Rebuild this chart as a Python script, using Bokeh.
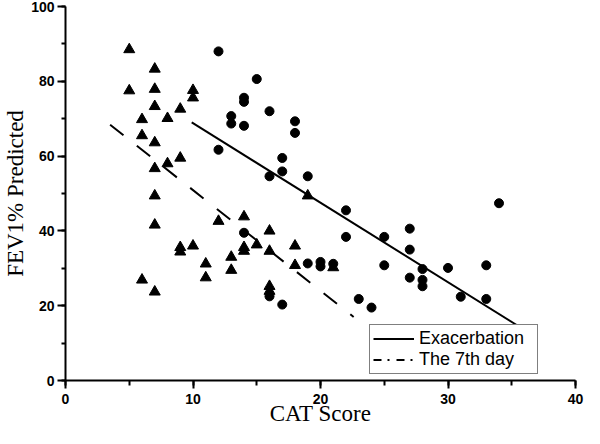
from bokeh.plotting import figure
from bokeh.models import Range1d, SingleIntervalTicker, Legend, LegendItem
from bokeh.embed import file_html
from bokeh.resources import INLINE

# Exacerbation (circles)
exac_x = [12, 12, 13, 13, 14, 14, 14, 14, 15, 16, 16, 16, 17, 17, 17, 18, 18, 19, 19, 20,
          20, 21, 22, 22, 23, 24, 25, 25, 27, 27, 27, 28, 28, 28, 30, 31, 33, 33, 34]
exac_y = [88.0, 61.7, 70.7, 68.7, 75.6, 74.5, 68.1, 39.5, 80.6, 72.0, 54.6, 22.5, 59.5, 55.9, 20.3, 69.3, 66.2, 54.6, 31.3, 31.7,
          30.5, 31.2, 45.5, 38.4, 21.8, 19.5, 38.4, 30.8, 40.6, 35.0, 27.5, 29.8, 26.9, 25.2, 30.1, 22.4, 30.8, 21.8, 47.4]

# The 7th day (triangles)
day7_x = [5, 5, 6, 6, 6, 7, 7, 7, 7, 7, 7, 7, 7, 8, 8, 9, 9, 9, 9, 10,
          10, 10, 11, 11, 12, 13, 13, 14, 14, 14, 15, 16, 16, 16, 16, 18, 18, 19, 21]
day7_y = [88.5, 77.5, 69.8, 65.5, 26.9, 83.3, 77.9, 73.3, 63.6, 56.7, 49.4, 41.6, 23.7, 70.1, 58.0, 72.6, 59.5, 35.6, 34.4, 77.6,
          75.6, 36.0, 31.2, 27.5, 42.6, 33.0, 29.5, 43.8, 35.6, 34.6, 36.3, 40.0, 34.6, 25.2, 23.9, 36.0, 30.8, 49.4, 30.2]

# Regression lines (end points)
exac_fit_x = [9.9, 36.2]
exac_fit_y = [69.0, 13.1]
day7_fit_x = [3.5, 22.6]
day7_fit_y = [68.4, 17.0]

x_label = "CAT Score"
y_label = "FEV1% Predicted"
series_names = ["Exacerbation", "The 7th day"]

p = figure(width=584, height=428,
           x_range=Range1d(0, 40), y_range=Range1d(0, 100),
           output_backend="svg", toolbar_location=None,
           min_border_left=61, min_border_right=9, min_border_top=6, min_border_bottom=48)

p.outline_line_color = None
p.grid.visible = False
p.background_fill_color = "white"
p.border_fill_color = "white"

p.xaxis.ticker = SingleIntervalTicker(interval=10, num_minor_ticks=2)
p.yaxis.ticker = SingleIntervalTicker(interval=20, num_minor_ticks=2)

for ax in (p.xaxis, p.yaxis):
    ax.axis_line_width = 2
    ax.axis_line_color = "black"
    ax.major_tick_line_width = 2
    ax.minor_tick_line_width = 2
    ax.major_tick_line_color = "black"
    ax.minor_tick_line_color = "black"
    ax.major_tick_in = 0
    ax.major_tick_out = 8
    ax.minor_tick_in = 0
    ax.minor_tick_out = 5
    ax.major_label_text_font = "Liberation Sans"
    ax.major_label_text_font_style = "bold"
    ax.major_label_text_font_size = "14px"
    ax.major_label_text_color = "black"
    ax.axis_label_text_font = "Liberation Serif"
    ax.axis_label_text_font_style = "normal"
    ax.axis_label_text_font_size = "23px"
    ax.axis_label_text_color = "black"

p.xaxis.axis_label = x_label
p.yaxis.axis_label = y_label
p.xaxis.major_label_standoff = 5
p.yaxis.major_label_standoff = 3
p.xaxis.axis_label_standoff = -6
p.yaxis.axis_label_standoff = 0
p.yaxis.minor_tick_out = 4

r_exac = p.line(exac_fit_x, exac_fit_y, line_color="black", line_width=2)
p.line(day7_fit_x, day7_fit_y, line_color="black", line_width=2, line_dash="17 17")

# legend-only sample of the dash-dot style (NaN data, so nothing is drawn in the plot)
nan = float("nan")
r_day7_leg = p.line([nan, nan], [nan, nan],
                    line_color="black", line_width=2, line_dash="8 6 2 7")

p.scatter(day7_x, day7_y, marker="triangle", size=11, fill_color="black", line_color="black")
p.scatter(exac_x, exac_y, marker="circle", size=9, fill_color="black", line_color="black")

legend = Legend(items=[LegendItem(label=series_names[0], renderers=[r_exac]),
                       LegendItem(label=series_names[1], renderers=[r_day7_leg])],
                location=(304, 6), margin=0, padding=3, spacing=0,
                glyph_width=41, glyph_height=19, label_height=19, label_standoff=5,
                label_width=115,
                label_text_font="Liberation Sans", label_text_font_size="18px",
                label_text_color="black",
                border_line_color="black", border_line_width=1,
                background_fill_color="white", background_fill_alpha=1.0)
p.add_layout(legend, "center")

open("out.html", "w").write(file_html(p, INLINE))
